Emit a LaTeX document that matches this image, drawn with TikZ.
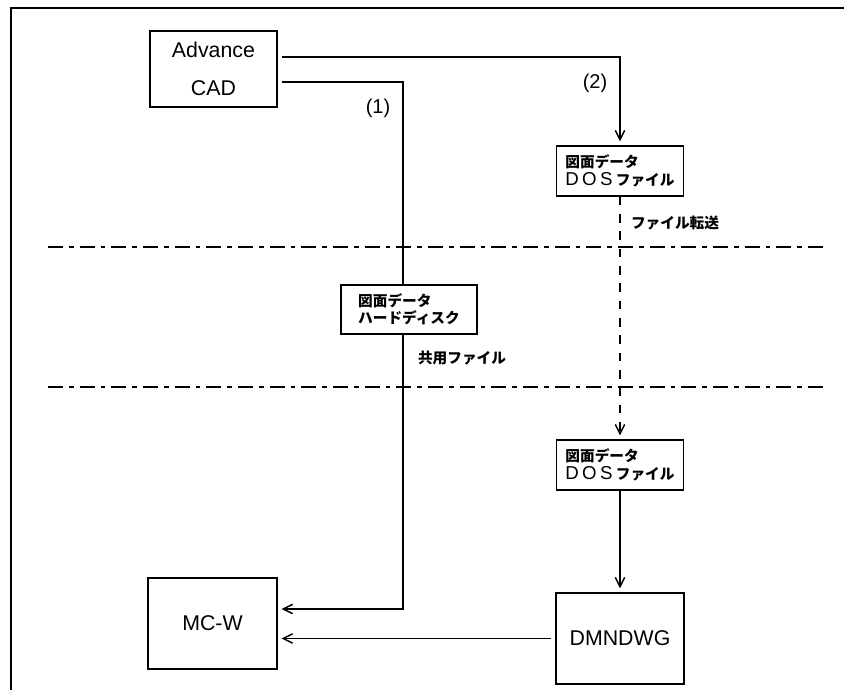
\documentclass[tikz,border=0pt]{standalone}
\usepackage{fontspec}
\setmainfont{Liberation Sans}
\newfontfamily\jpfont{Noto Sans CJK JP}
\usepackage{tikz}
\usetikzlibrary{positioning,arrows.meta}

\begin{document}
\begin{tikzpicture}[
    x=0.75pt, y=-0.75pt,
    >={Straight Barb[length=7pt,width=7pt]},
    box/.style={
        draw,
        line width=0.9pt,
        inner sep=0pt,
        align=center,
        font=\fontsize{16}{28.5}\selectfont
    },
    filebox/.style={
        draw,
        line width=0.9pt,
        inner sep=0pt,
        align=left,
        minimum width=95.25pt,
        minimum height=37.5pt,
        font=\jpfont\bfseries\fontsize{11}{13.5}\selectfont
    },
    note/.style={font=\jpfont\bfseries\fontsize{11}{11}\selectfont},
    tag/.style={font=\fontsize{15}{15}\selectfont},
    link/.style={line width=1.1pt},
    arrow/.style={->, line width=1.1pt, shorten >=3pt},
    chain/.style={line width=1.5pt, dash pattern=on 11.25pt off 4.5pt on 3.5pt off 4.5pt}
]
\useasboundingbox (0,0) rectangle (844,690);

% FRAME AND ZONES
\draw[line width=1.1pt] (844,8) -| (11,690);
\draw[chain] (48,247) -- (823,247);
\draw[chain] (48,387) -- (823,387);

% TOP
\node[box, minimum width=95.25pt, minimum height=57pt] (cad) at (213.5,69)
{Advance\\CAD};

\node[filebox] (dosa) at (620,171)
{図面データ\\{\rmfamily\mdseries\fontsize{14}{14}\selectfont D\kern2.5pt O\kern2.5pt S}\kern2.5pt ファイル};

% MIDDLE
\node[filebox, minimum width=102pt, minimum height=36.75pt,
      font=\jpfont\bfseries\fontsize{11}{12.5}\selectfont] (hdd) at (409,309.5)
{図面データ\\ハードディスク};

% BOTTOM
\node[filebox] (dosb) at (620,465)
{図面データ\\{\rmfamily\mdseries\fontsize{14}{14}\selectfont D\kern2.5pt O\kern2.5pt S}\kern2.5pt ファイル};

\node[box, minimum width=96.75pt, minimum height=68.25pt] (mcw) at (212.5,623.5)
{MC-W};

\node[box, minimum width=96pt, minimum height=68.25pt] (dmn) at (620,638.5)
{DMNDWG};

% LABELS
\node[tag] (one) at (378,108) {(1)};
\node[tag] (two) at (595,83) {(2)};
\node[note] (transfer) at (675,223) {ファイル転送};
\node[note] (shared) at (462,358) {共用ファイル};

% CONNECTORS
\draw[arrow, shorten <=3pt] ([yshift=9pt]cad.east) -| (dosa.north);
\draw[link, shorten <=3pt] ([yshift=-9.75pt]cad.east) -| ([xshift=-4.5pt]hdd.north);
\draw[arrow] ([xshift=-4.5pt]hdd.south) |- ([yshift=10.9pt]mcw.east);
\draw[arrow, dash pattern=on 6.5pt off 6.5pt] (dosa) -- (dosb);
\draw[arrow] (dosb) -- (dmn);
\draw[arrow, shorten <=3pt] (dmn.west) -- (dmn.west -| mcw.east);

\end{tikzpicture}
\end{document}
